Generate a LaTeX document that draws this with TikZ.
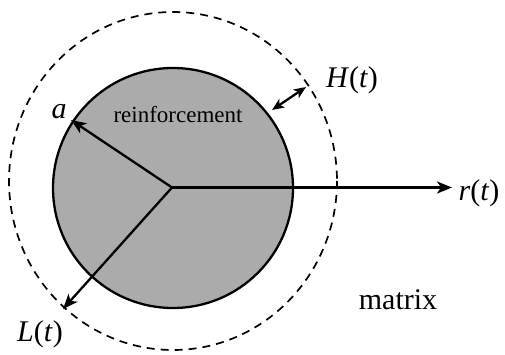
\documentclass[tikz,border=0pt]{standalone}
\usepackage{fontspec}
\setmainfont{Liberation Serif}
\usetikzlibrary{arrows.meta}
\tikzset{
  solidline/.style={line width=2.3pt},
  arr/.style={line width=2.3pt,-{Stealth[length=15pt,width=12pt,inset=4pt]}},
  darr/.style={line width=2.3pt,{Stealth[length=12pt,width=10pt,inset=3pt]}-{Stealth[length=12pt,width=10pt,inset=3pt]}},
  lbl/.style={font=\fontsize{30}{32}\selectfont, inner sep=0pt},
}
\begin{document}
\begin{tikzpicture}[x=1pt,y=-1pt]
\useasboundingbox (0,0) rectangle (505,355);
\fill[white] (0,0) rectangle (505,355);
% outer dashed boundary
\draw[line width=1.7pt, dash pattern=on 8pt off 6pt] (173,181) ellipse [x radius=164, y radius=169];
% reinforcement
\node[circle, draw, solidline, fill=black!33, minimum size=240pt, inner sep=0pt] (fib) at (173,188) {};
\coordinate (O) at (172,187.5);
\coordinate (aend) at (71,120);
\coordinate (rend) at (452,187.5);
\coordinate (Lend) at (63,309);
\coordinate (H1) at (272,110);
\coordinate (H2) at (306,87);
\draw[arr] (O) -- (aend);
\draw[arr] (O) -- (rend);
\draw[arr] (O) -- (Lend);
\draw[darr] (H1) -- (H2);
\node[lbl] (la) at (59,112) {\textit{a}};
\node[lbl, font=\fontsize{23}{25}\selectfont] (lre) at (178,115) {reinforcement};
\node[lbl] (lH) at (352,80) {\textit{H}(\textit{t})};
\node[lbl] (lr) at (479,193) {\textit{r}(\textit{t})};
\node[lbl] (lm) at (398,300) {matrix};
\node[lbl] (lL) at (40,334) {\textit{L}(\textit{t})};
\end{tikzpicture}
\end{document}
